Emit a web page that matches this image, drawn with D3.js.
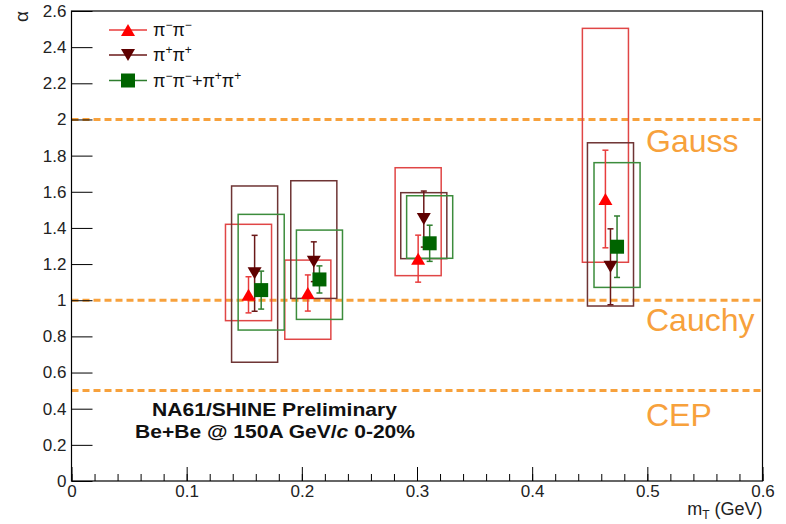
<!DOCTYPE html>
<html>
<head>
<meta charset="utf-8">
<script src="https://cdn.jsdelivr.net/npm/d3@7"></script>
<style>
  html, body { margin: 0; padding: 0; background: #fff; }
  svg { display: block; font-family: "Liberation Sans", Arial, Helvetica, sans-serif; }
</style>
</head>
<body>
<svg id="chart" width="786" height="524"></svg>
<script>
// HBT Levy exponent alpha versus transverse mass, Be+Be at 150A GeV/c, 0-20% centrality
const xTicks = [0, 0.1, 0.2, 0.3, 0.4, 0.5, 0.6];
const yTicks = [0, 0.2, 0.4, 0.6, 0.8, 1, 1.2, 1.4, 1.6, 1.8, 2, 2.2, 2.4, 2.6];

// pi-pi- pairs
const pimX      = [0.1537, 0.2052, 0.3010, 0.4636];
const pimAlpha  = [1.03, 1.04, 1.23, 1.56];
const pimStat   = [0.10, 0.10, 0.13, 0.27];
const pimSysLow = [0.887, 0.784, 1.136, 1.21];
const pimSysHigh= [1.42, 1.222, 1.733, 2.504];

// pi+pi+ pairs
const pipX      = [0.1590, 0.2104, 0.3059, 0.4680];
const pipAlpha  = [1.149, 1.213, 1.449, 1.185];
const pipStat   = [0.21, 0.11, 0.155, 0.21];
const pipSysLow = [0.657, 1.01, 1.23, 0.968];
const pipSysHigh= [1.632, 1.661, 1.595, 1.871];

// combined pi-pi- + pi+pi+
const combX      = [0.1647, 0.2153, 0.3110, 0.4737];
const combAlpha  = [1.056, 1.115, 1.315, 1.296];
const combStat   = [0.105, 0.075, 0.10, 0.17];
const combSysLow = [0.835, 0.894, 1.232, 1.071];
const combSysHigh= [1.475, 1.388, 1.578, 1.761];

// reference values of alpha
const refAlpha  = [2, 1, 0.5];
const refLabels = ["Gauss", "Cauchy", "CEP"];

const sysHalfWidth = 0.02; // half width of systematic boxes, in GeV

const series = [
  { x: pimX,  y: pimAlpha,  stat: pimStat,  lo: pimSysLow,  hi: pimSysHigh,
    marker: "up",   fill: "#ff0000", bar: "#e83c3c", box: "#e04646" },
  { x: pipX,  y: pipAlpha,  stat: pipStat,  lo: pipSysLow,  hi: pipSysHigh,
    marker: "down", fill: "#5e0000", bar: "#6a1818", box: "#6e3434" },
  { x: combX, y: combAlpha, stat: combStat, lo: combSysLow, hi: combSysHigh,
    marker: "square", fill: "#006400", bar: "#2e7d2e", box: "#3c8c3c" }
];

const svg = d3.select("#chart");
const plotLeft = 71.5, plotRight = 762.5, plotTop = 11, plotBottom = 481;

const x = d3.scaleLinear().domain([0, 0.6]).range([plotLeft, plotRight]);
const y = d3.scaleLinear().domain([0, 2.6]).range([plotBottom, plotTop]);

const markerPath = {
  up: "M0,-6L7,6L-7,6Z",
  down: "M0,6L7,-6L-7,-6Z",
  square: "M-7,-7H7V7H-7Z"
};

// reference lines
const orange = "#f7a13c";
svg.append("g").selectAll("line").data(refAlpha).join("line")
  .attr("x1", plotLeft).attr("x2", plotRight)
  .attr("y1", d => y(d)).attr("y2", d => y(d))
  .attr("stroke", orange).attr("stroke-width", 3)
  .attr("stroke-dasharray", "7,4");

const refBaselineOffset = [33, 31, 35];
svg.append("g").selectAll("text").data(refAlpha).join("text")
  .attr("x", 646)
  .attr("y", (d, i) => y(d) + refBaselineOffset[i])
  .attr("fill", orange)
  .attr("font-size", 32)
  .text((d, i) => refLabels[i]);

// systematic boxes
const boxes = svg.append("g");
series.forEach(s => {
  boxes.selectAll(null).data(s.x).join("rect")
    .attr("x", d => x(d - sysHalfWidth))
    .attr("width", d => x(d + sysHalfWidth) - x(d - sysHalfWidth))
    .attr("y", (d, i) => y(s.hi[i]))
    .attr("height", (d, i) => y(s.lo[i]) - y(s.hi[i]))
    .attr("fill", "none")
    .attr("stroke", s.box)
    .attr("stroke-width", 1.5);
});

// statistical error bars
const bars = svg.append("g");
series.forEach(s => {
  const g = bars.selectAll(null).data(s.x).join("g")
    .attr("stroke", s.bar).attr("stroke-width", 1.5);
  g.append("line")
    .attr("x1", d => x(d)).attr("x2", d => x(d))
    .attr("y1", (d, i) => y(s.y[i] + s.stat[i]))
    .attr("y2", (d, i) => y(s.y[i] - s.stat[i]));
  [1, -1].forEach(sign => {
    g.append("line")
      .attr("x1", d => x(d) - 3).attr("x2", d => x(d) + 3)
      .attr("y1", (d, i) => y(s.y[i] + sign * s.stat[i]))
      .attr("y2", (d, i) => y(s.y[i] + sign * s.stat[i]));
  });
});

// markers
const marks = svg.append("g");
series.forEach(s => {
  marks.selectAll(null).data(s.x).join("path")
    .attr("d", markerPath[s.marker])
    .attr("transform", (d, i) => `translate(${x(d)},${y(s.y[i])})`)
    .attr("fill", s.fill);
});

// axes
const xAxis = d3.axisBottom(x).tickValues(xTicks)
  .tickFormat(d3.format("~g")).tickSizeInner(-14).tickSizeOuter(0).tickPadding(4);
const xMinor = d3.axisBottom(x).tickValues(d3.range(0, 31).map(i => i * 0.02))
  .tickFormat("").tickSizeInner(-7).tickSizeOuter(0);
const yAxis = d3.axisLeft(y).tickValues(yTicks)
  .tickFormat(d3.format("~g")).tickSizeInner(-21).tickSizeOuter(0).tickPadding(5);

function styleAxis(g) {
  g.select(".domain").remove();
  g.selectAll("line").attr("stroke", "#000").attr("stroke-width", 1);
  g.selectAll("text").attr("fill", "#222").attr("font-size", 17)
    .attr("font-family", "\"Liberation Sans\", Arial, sans-serif");
}

svg.append("g").attr("transform", `translate(0,${plotBottom})`).call(xMinor).call(styleAxis);
svg.append("g").attr("transform", `translate(0,${plotBottom})`).call(xAxis).call(styleAxis);
svg.append("g").attr("transform", `translate(${plotLeft},0)`).call(yAxis).call(styleAxis);

// frame
svg.append("rect")
  .attr("x", plotLeft).attr("y", plotTop)
  .attr("width", plotRight - plotLeft).attr("height", plotBottom - plotTop)
  .attr("fill", "none").attr("stroke", "#000").attr("stroke-width", 1.2);

// axis titles
svg.append("text")
  .attr("transform", `translate(28,${plotTop}) rotate(-90)`)
  .attr("text-anchor", "end").attr("font-size", 19).attr("fill", "#222")
  .text("α");

const xt = svg.append("text")
  .attr("x", plotRight).attr("y", 515)
  .attr("text-anchor", "end").attr("font-size", 18).attr("fill", "#222");
xt.append("tspan").text("m");
xt.append("tspan").attr("font-size", 12).attr("dy", 4).text("T");
xt.append("tspan").attr("dy", -4).text(" (GeV)");

// legend
const legendRows = [
  [["π", ""], ["−", "sup"], ["π", ""], ["−", "sup"]],
  [["π", ""], ["+", "sup"], ["π", ""], ["+", "sup"]],
  [["π", ""], ["−", "sup"], ["π", ""], ["−", "sup"], ["+π", ""], ["+", "sup"], ["π", ""], ["+", "sup"]]
];
const legendY = [30, 55, 80.5];
const legend = svg.append("g");
series.forEach((s, i) => {
  const row = legend.append("g").attr("transform", `translate(0,${legendY[i]})`);
  row.append("line").attr("x1", 109).attr("x2", 147).attr("y1", 0).attr("y2", 0)
    .attr("stroke", s.bar).attr("stroke-width", 1.5);
  row.append("path").attr("d", markerPath[s.marker])
    .attr("transform", "translate(128,0)").attr("fill", s.fill);
  const t = row.append("text").attr("x", 153).attr("y", 6)
    .attr("font-size", 18).attr("fill", "#111");
  let raised = false;
  legendRows[i].forEach(([txt, kind]) => {
    const sp = t.append("tspan").text(txt);
    if (kind === "sup" && !raised) { sp.attr("dy", -7).attr("font-size", 12); raised = true; }
    else if (kind === "sup") { sp.attr("font-size", 12); }
    else if (raised) { sp.attr("dy", 7); raised = false; }
  });
});

// experiment label
const info = svg.append("g").attr("font-weight", "bold").attr("font-size", 19)
  .attr("fill", "#111");
info.append("text").attr("x", 152).attr("y", 416)
  .attr("textLength", 245).attr("lengthAdjust", "spacingAndGlyphs")
  .text("NA61/SHINE Preliminary");
const l2 = info.append("text").attr("x", 135).attr("y", 437.5)
  .attr("textLength", 280).attr("lengthAdjust", "spacingAndGlyphs");
l2.append("tspan").text("Be+Be @ 150A GeV/");
l2.append("tspan").attr("font-style", "italic").text("c");
l2.append("tspan").text(" 0-20%");
</script>
</body>
</html>
